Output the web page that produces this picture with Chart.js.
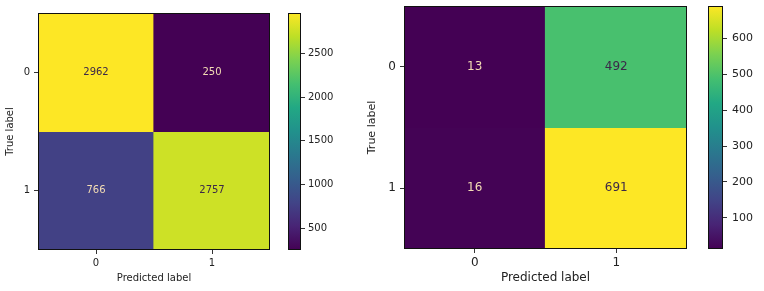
<!DOCTYPE html>
<html>
<head>
<meta charset="utf-8">
<script src="https://cdn.jsdelivr.net/npm/chart.js@4/dist/chart.umd.min.js"></script>
<style>
  body { margin: 0; background: #fff; }
  #wrap { position: relative; width: 764px; height: 291px; }
  canvas { position: absolute; top: 0; }
</style>
</head>
<body>
<div id="wrap">
  <canvas id="cmLeft" width="280" height="291" style="left:0"></canvas>
  <canvas id="cbLeft" width="60" height="291" style="left:288px"></canvas>
  <canvas id="cmRight" width="340" height="291" style="left:360px"></canvas>
  <canvas id="cbRight" width="56" height="291" style="left:708px"></canvas>
</div>
<script>
const predictedLabels = ['0', '1'];
const trueLabels = ['0', '1'];

// rows = true label, columns = predicted label
const matrixLeft = [
  [2962, 250],
  [766, 2757]
];
const matrixRight = [
  [13, 492],
  [16, 691]
];

const colorbarTicksLeft = [500, 1000, 1500, 2000, 2500];
const colorbarTicksRight = [100, 200, 300, 400, 500, 600];

Chart.defaults.font.family = 'DejaVu Sans';
Chart.defaults.color = '#222';
Chart.defaults.animation = false;

const viridisStops = ['#440154', '#482475', '#414487', '#355f8d', '#2a788e',
  '#21918c', '#22a884', '#44bf70', '#7ad151', '#bddf26', '#fde725'];

function hexToRgb(h) {
  return [parseInt(h.slice(1, 3), 16), parseInt(h.slice(3, 5), 16), parseInt(h.slice(5, 7), 16)];
}

function viridis(t) {
  t = Math.max(0, Math.min(1, t));
  const pos = t * (viridisStops.length - 1);
  const i = Math.min(Math.floor(pos), viridisStops.length - 2);
  const f = pos - i;
  const a = hexToRgb(viridisStops[i]);
  const b = hexToRgb(viridisStops[i + 1]);
  const c = a.map((v, k) => Math.round(v + (b[k] - v) * f));
  return 'rgb(' + c.join(',') + ')';
}

// stop chart.js from adding room for half a tick label above/below the axis
function noScalePadding(s) {
  s.paddingTop = 0;
  s.paddingBottom = 0;
  s.paddingLeft = 0;
  s.paddingRight = 0;
}

// black outline round the plot area
const framePlugin = {
  id: 'frame',
  afterDatasetsDraw(chart) {
    const a = chart.chartArea;
    const ctx = chart.ctx;
    ctx.save();
    ctx.strokeStyle = '#111';
    ctx.lineWidth = 1;
    ctx.strokeRect(Math.round(a.left) + 0.5, Math.round(a.top) + 0.5,
      Math.round(a.right - a.left) - 1, Math.round(a.bottom - a.top) - 1);
    ctx.restore();
  }
};

function makeMatrix(canvasId, matrix, opts) {
  const flat = matrix.flat();
  const vmin = Math.min(...flat);
  const vmax = Math.max(...flat);
  const mid = (vmin + vmax) / 2;

  const datasets = trueLabels.map((lab, r) => ({
    label: lab,
    data: predictedLabels.map(() => [r - 0.5, r + 0.5]),
    backgroundColor: matrix[r].map(v => viridis((v - vmin) / (vmax - vmin))),
    borderWidth: 0,
    inflateAmount: 0.6,
    grouped: false,
    barPercentage: 1,
    categoryPercentage: 1
  }));

  const annotate = {
    id: 'annotate',
    afterDatasetsDraw(chart) {
      const ctx = chart.ctx;
      ctx.save();
      ctx.font = opts.font + 'px DejaVu Sans';
      ctx.textAlign = 'center';
      ctx.textBaseline = 'middle';
      chart.data.datasets.forEach((ds, r) => {
        chart.getDatasetMeta(r).data.forEach((bar, c) => {
          const v = matrix[r][c];
          ctx.fillStyle = v < mid ? '#f3dcb4' : '#3b2848';
          ctx.fillText(String(v), bar.x, (bar.y + bar.base) / 2);
        });
      });
      ctx.restore();
    }
  };

  return new Chart(document.getElementById(canvasId), {
    type: 'bar',
    data: { labels: predictedLabels, datasets: datasets },
    options: {
      responsive: false,
      devicePixelRatio: 1,
      layout: { padding: { top: opts.top, right: opts.right, left: 0, bottom: 0 } },
      plugins: { legend: { display: false }, tooltip: { enabled: false } },
      scales: {
        x: {
          offset: true,
          grid: { display: true, offset: false, drawOnChartArea: false, tickLength: 4, color: '#333' },
          border: { display: false },
          ticks: { font: { size: opts.font }, padding: 3, color: '#222' },
          title: { display: true, text: 'Predicted label', font: { size: opts.font },
            padding: { top: 0, bottom: opts.titleBottom }, color: '#222' },
          afterFit(s) { noScalePadding(s); s.height = opts.xHeight; }
        },
        y: {
          type: 'linear',
          min: -0.5,
          max: 1.5,
          reverse: true,
          grid: { display: true, drawOnChartArea: false, tickLength: 4, color: '#333' },
          border: { display: false },
          afterBuildTicks(s) { s.ticks = trueLabels.map((_, i) => ({ value: i })); },
          ticks: { font: { size: opts.font }, padding: opts.yPad, color: '#222',
            callback: v => trueLabels[v] },
          title: { display: true, text: 'True label', font: { size: opts.titleFont },
            padding: { top: opts.titleLeft, bottom: 0 }, color: '#222' },
          afterFit(s) { noScalePadding(s); s.width = opts.yWidth; }
        }
      }
    },
    plugins: [annotate, framePlugin]
  });
}

function makeColorbar(canvasId, matrix, tickValues, opts) {
  const flat = matrix.flat();
  const vmin = Math.min(...flat);
  const vmax = Math.max(...flat);
  const canvas = document.getElementById(canvasId);

  return new Chart(canvas, {
    type: 'bar',
    data: {
      labels: [''],
      datasets: [{
        data: [[vmin, vmax]],
        borderWidth: 0,
        barPercentage: 1,
        categoryPercentage: 1,
        backgroundColor(c) {
          const area = c.chart.chartArea;
          if (!area) return '#21918c';
          const g = c.chart.ctx.createLinearGradient(0, area.bottom, 0, area.top);
          viridisStops.forEach((col, i) => g.addColorStop(i / (viridisStops.length - 1), col));
          return g;
        }
      }]
    },
    options: {
      responsive: false,
      devicePixelRatio: 1,
      layout: { padding: { top: opts.top, bottom: opts.bottom, left: 0, right: 0 } },
      plugins: { legend: { display: false }, tooltip: { enabled: false } },
      scales: {
        x: { display: false },
        y: {
          position: 'right',
          min: vmin,
          max: vmax,
          grid: { display: true, drawOnChartArea: false, tickLength: 4, color: '#333' },
          border: { display: false },
          afterBuildTicks(s) { s.ticks = tickValues.map(v => ({ value: v })); },
          ticks: { font: { size: opts.font }, padding: opts.pad, color: '#222',
            callback: v => String(v) },
          afterFit(s) { noScalePadding(s); s.width = canvas.width - opts.barWidth; }
        }
      }
    },
    plugins: [framePlugin]
  });
}

makeMatrix('cmLeft', matrixLeft, {
  top: 13, right: 10, xHeight: 41, yWidth: 38, font: 10, titleFont: 10,
  yPad: 4, titleBottom: 7, titleLeft: 4
});
makeColorbar('cbLeft', matrixLeft, colorbarTicksLeft, {
  top: 13, bottom: 41, barWidth: 13, font: 10, pad: 3
});
makeMatrix('cmRight', matrixRight, {
  top: 6, right: 13, xHeight: 42, yWidth: 44, font: 12, titleFont: 11,
  yPad: 4, titleBottom: 6, titleLeft: 6
});
makeColorbar('cbRight', matrixRight, colorbarTicksRight, {
  top: 6, bottom: 42, barWidth: 15, font: 11, pad: 5
});
</script>
</body>
</html>
